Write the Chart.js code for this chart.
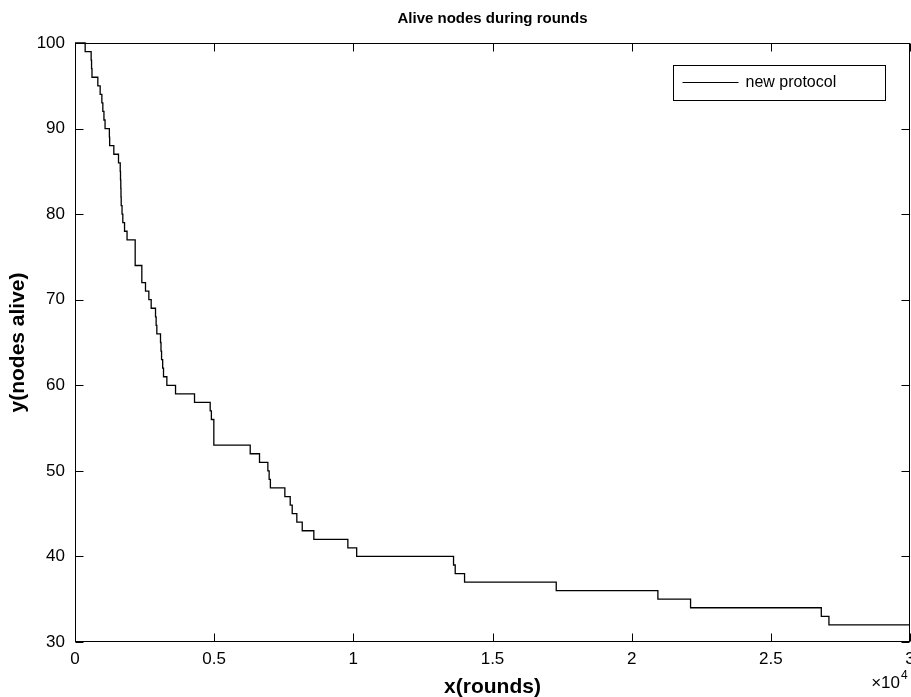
<!DOCTYPE html>
<html>
<head>
<meta charset="utf-8">
<title>Alive nodes during rounds</title>
<script src="https://cdn.jsdelivr.net/npm/chart.js@4.4.1/dist/chart.umd.min.js"></script>
<style>
  html, body { margin: 0; padding: 0; background: #fff; }
  canvas { display: block; }
</style>
</head>
<body>
<canvas id="chart" width="911" height="697"></canvas>
<script>
// round at which the count changes, and the number of nodes alive from then on
const rounds = [
  0, 365, 580, 595, 610, 820, 904, 965, 1000, 1040,
  1080, 1235, 1245, 1395, 1563, 1625, 1635, 1645, 1652, 1660,
  1690, 1718, 1780, 1870, 2162, 2401, 2533, 2653, 2737, 2893,
  2915, 2940, 3072, 3090, 3110, 3150, 3180, 3300, 3612, 4294,
  4857, 4900, 4988, 6295, 6629, 6929, 6975, 7020, 7540, 7732,
  7804, 7970, 8164, 8581, 9803, 10120, 13600, 13660, 13996, 17290,
  20942, 22116, 26813, 27087, 30000
];
const alive = [
  100, 99, 98, 97, 96, 95, 94, 93, 92, 91,
  90, 89, 88, 87, 86, 85, 84, 83, 82, 81,
  80, 79, 78, 77, 74, 72, 71, 70, 69, 68,
  67, 66, 65, 64, 63, 62, 61, 60, 59, 58,
  57, 56, 53, 52, 51, 50, 49, 48, 47, 46,
  45, 44, 43, 42, 41, 40, 39, 38, 37, 36,
  35, 34, 33, 32, 32
];
const seriesLabel = 'new protocol';
const xRange = [0, 30000];
const xStep = 5000;
const yRange = [30, 100];
const yStep = 10;
const xExponent = 4;

const FONT = '"Liberation Sans", Arial, Helvetica, sans-serif';

// box around the plot, inward ticks on all four sides, legend box and the x10^4 factor
const matlabAxes = {
  id: 'matlabAxes',
  afterDraw(chart) {
    const { ctx, chartArea: a, scales: { x, y } } = chart;
    const L = Math.round(a.left) + 0.5, R = Math.round(a.right) - 0.5;
    const T = Math.round(a.top) + 0.5, B = Math.round(a.bottom) - 0.5;
    const tick = 8;

    ctx.save();
    ctx.strokeStyle = '#000';
    ctx.lineWidth = 1;
    ctx.strokeRect(L, T, R - L, B - T);

    ctx.beginPath();
    x.ticks.forEach(t => {
      const px = Math.round(x.getPixelForValue(t.value)) + 0.5;
      ctx.moveTo(px, B); ctx.lineTo(px, B - tick);
      ctx.moveTo(px, T); ctx.lineTo(px, T + tick);
    });
    y.ticks.forEach(t => {
      const py = Math.round(y.getPixelForValue(t.value)) + 0.5;
      ctx.moveTo(L, py); ctx.lineTo(L + tick, py);
      ctx.moveTo(R, py); ctx.lineTo(R - tick, py);
    });
    ctx.stroke();

    // legend
    const ds = chart.data.datasets[0];
    const bw = 212, bh = 35;
    const bx = Math.round(a.right) - 25 - bw + 0.5;
    const by = Math.round(a.top) + 22 + 0.5;
    ctx.fillStyle = '#fff';
    ctx.fillRect(bx, by, bw, bh);
    ctx.strokeRect(bx, by, bw, bh);
    ctx.beginPath();
    ctx.strokeStyle = ds.borderColor;
    ctx.moveTo(bx + 9, by + 17);
    ctx.lineTo(bx + 65, by + 17);
    ctx.stroke();
    ctx.fillStyle = '#000';
    ctx.font = '16px ' + FONT;
    ctx.textBaseline = 'middle';
    ctx.textAlign = 'left';
    ctx.fillText(ds.label, bx + 72, by + 17);

    // exponent of the x axis
    ctx.font = '17px ' + FONT;
    ctx.textAlign = 'right';
    ctx.textBaseline = 'alphabetic';
    ctx.fillText('\u00d710', 900, 688);
    ctx.font = '12px ' + FONT;
    ctx.textAlign = 'left';
    ctx.fillText(String(xExponent), 901, 679);
    ctx.restore();
  }
};

new Chart(document.getElementById('chart'), {
  type: 'line',
  data: {
    datasets: [{
      label: seriesLabel,
      data: rounds.map((r, i) => ({ x: r, y: alive[i] })),
      borderColor: '#000',
      borderWidth: 1.3,
      pointRadius: 0,
      stepped: 'before',
      fill: false,
      clip: 2
    }]
  },
  options: {
    responsive: false,
    animation: false,
    devicePixelRatio: 1,
    layout: { padding: { top: 0, right: 1, bottom: 0, left: 0 } },
    plugins: {
      legend: { display: false },
      tooltip: { enabled: false },
      title: {
        display: true,
        fullSize: false,
        text: 'Alive nodes during rounds',
        color: '#000',
        font: { family: FONT, size: 15, weight: 'bold' },
        padding: { top: 10, bottom: 15 }
      }
    },
    scales: {
      x: {
        type: 'linear',
        min: xRange[0],
        max: xRange[1],
        grid: { display: false, drawTicks: false },
        border: { display: false },
        ticks: {
          stepSize: xStep,
          autoSkip: false,
          maxRotation: 0,
          color: '#000',
          padding: 7,
          font: { family: FONT, size: 17 },
          callback: v => String(v / Math.pow(10, xExponent))
        },
        title: {
          display: true,
          text: 'x(rounds)',
          color: '#000',
          font: { family: FONT, size: 21, weight: 'bold' },
          padding: { top: 0, bottom: -3 }
        },
        afterFit(scale) {
          scale.height = 55;
          scale.paddingRight = 0;
        }
      },
      y: {
        min: yRange[0],
        max: yRange[1],
        grid: { display: false, drawTicks: false },
        border: { display: false },
        ticks: {
          stepSize: yStep,
          color: '#000',
          padding: 10,
          font: { family: FONT, size: 17 }
        },
        title: {
          display: true,
          text: 'y(nodes alive)',
          color: '#000',
          font: { family: FONT, size: 21, weight: 'bold' },
          padding: { top: 6, bottom: 0 }
        },
        afterFit(scale) {
          scale.width = 75;
        }
      }
    }
  },
  plugins: [matlabAxes]
});
</script>
</body>
</html>
